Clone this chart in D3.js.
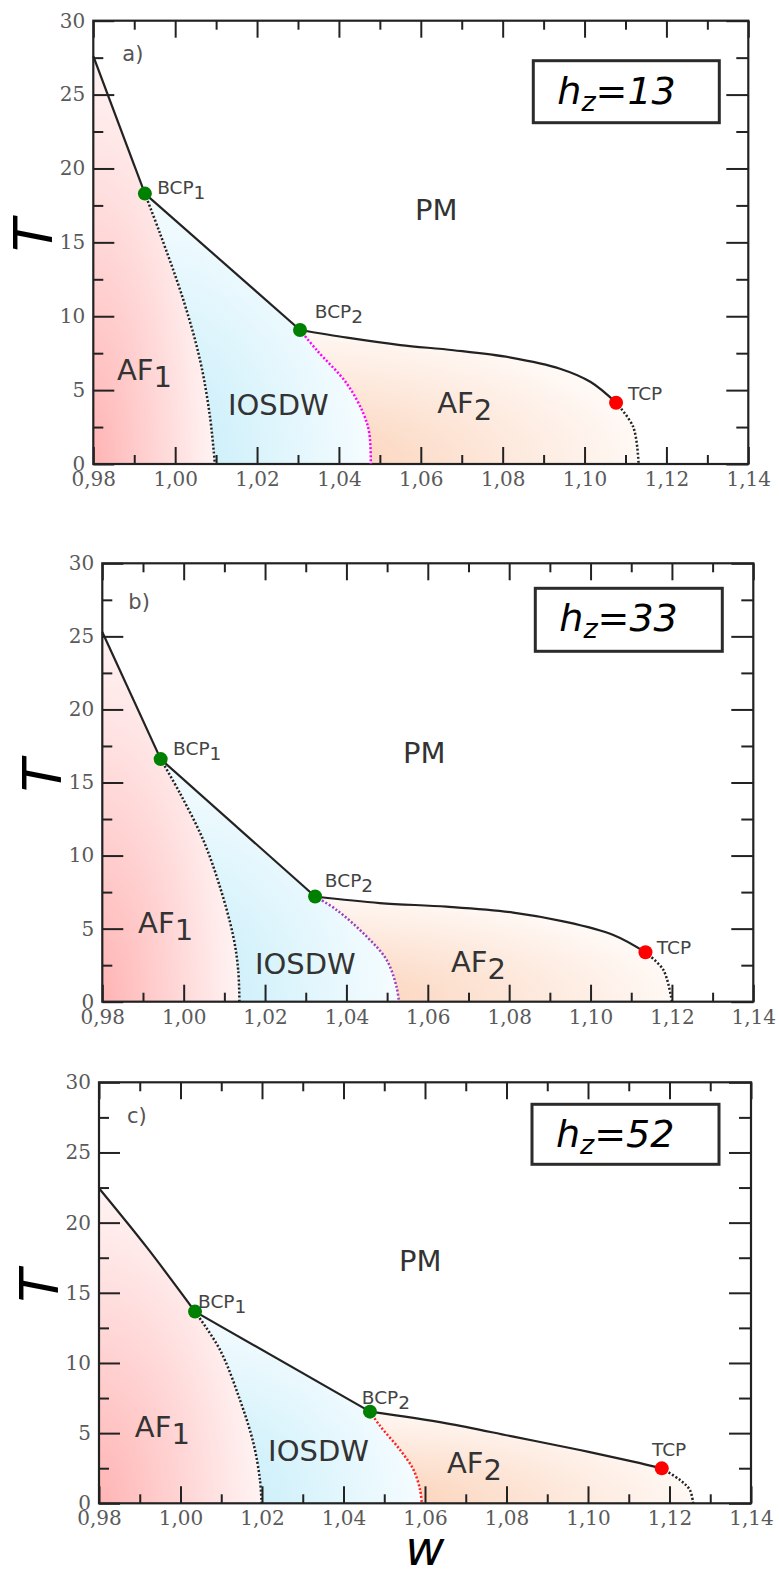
<!DOCTYPE html>
<html>
<head>
<meta charset="utf-8">
<script src="https://cdn.jsdelivr.net/npm/d3@7"></script>
<style>
  html, body { margin: 0; padding: 0; background: #fff; }
  svg { display: block; }
</style>
</head>
<body>
<svg id="fig" width="779" height="1594"></svg>
<script>
// ---- axes ----
const wDomain = [0.98, 1.14];
const tDomain = [0, 30];
const wMajor = [0.98, 1.00, 1.02, 1.04, 1.06, 1.08, 1.10, 1.12, 1.14];
const wMinor = [0.99, 1.01, 1.03, 1.05, 1.07, 1.09, 1.11, 1.13];
const tMajor = [0, 5, 10, 15, 20, 25, 30];
const tMinor = [2.5, 7.5, 12.5, 17.5, 22.5, 27.5];
const panelTags = ["a)", "b)", "c)"];
const hzValues = [13, 33, 52];

// ---- phase boundaries, points are [w, T] ----
// h_z = 13
const pmAf1A    = [[0.98, 27.6], [0.9926, 18.3]];
const pmIosdwA  = [[0.9926, 18.3], [1.0305, 9.07]];
const pmAf2A    = [[1.0305, 9.07], [1.042, 8.55], [1.055, 8.05], [1.068, 7.7], [1.082, 7.2], [1.094, 6.45], [1.1015, 5.55], [1.1077, 4.15]];
const tcpTailA  = [[1.1077, 4.15], [1.1119, 2.5], [1.1132, 0]];
const af1IosdwA = [[0.9926, 18.3], [0.9963, 15.6], [1.0020, 11.1], [1.0061, 7.0], [1.0085, 3.2], [1.0097, 0]];
const iosdwAf2A = [[1.0305, 9.07], [1.0346, 7.7], [1.0419, 5.45], [1.046, 3.4], [1.0474, 2.1], [1.0478, 0]];
const bicriticalA  = [[0.9926, 18.3], [1.0305, 9.07]];
const tricriticalA = [[1.1077, 4.15]];

// h_z = 33
const pmAf1B    = [[0.98, 25.3], [0.99435, 16.6]];
const pmIosdwB  = [[0.99435, 16.6], [1.0323, 7.2]];
const pmAf2B    = [[1.0323, 7.2], [1.0482, 6.75], [1.0646, 6.5], [1.081, 6.1], [1.0933, 5.5], [1.1056, 4.57], [1.1135, 3.38]];
const tcpTailB  = [[1.1135, 3.38], [1.1179, 2.17], [1.12, 0]];
const af1IosdwB = [[0.99435, 16.6], [0.9991, 14.26], [1.0048, 11.07], [1.0089, 7.87], [1.0122, 4.45], [1.0134, 2.17], [1.0137, 0]];
const iosdwAf2B = [[1.0323, 7.2], [1.0376, 6.28], [1.045, 4.45], [1.0499, 2.85], [1.0523, 1.03], [1.0529, 0]];
const bicriticalB  = [[0.99435, 16.6], [1.0323, 7.2]];
const tricriticalB = [[1.1135, 3.38]];

// h_z = 52
const pmAf1C    = [[0.98, 22.45], [0.9917, 18.25], [1.00356, 13.66]];
const pmIosdwC  = [[1.00356, 13.66], [1.0465, 6.53]];
const pmAf2C    = [[1.0465, 6.53], [1.0653, 5.70], [1.0817, 4.75], [1.098, 3.80], [1.1111, 2.97], [1.1181, 2.49]];
const tcpTailC  = [[1.1181, 2.49], [1.1226, 1.66], [1.125, 0.95], [1.1258, 0]];
const af1IosdwC = [[1.00356, 13.66], [1.0097, 10.93], [1.0146, 7.36], [1.0179, 4.28], [1.0195, 1.66], [1.0199, 0]];
const iosdwAf2C = [[1.0465, 6.53], [1.049, 5.5], [1.0539, 3.8], [1.0572, 2.37], [1.0588, 0.95], [1.0592, 0]];
const bicriticalC  = [[1.00356, 13.66], [1.0465, 6.53]];
const tricriticalC = [[1.1181, 2.49]];

// ---- layout ----
const frames = [
  { x0: 93.3,  x1: 748.3, y0: 20.7,   y1: 464 },
  { x0: 102.3, x1: 753.3, y0: 563.3,  y1: 1001.7 },
  { x0: 99,    x1: 751,   y0: 1082.3, y1: 1503.3 }
];
const legendBoxes = [
  { right: 29, top: 40, w: 186, h: 62 },
  { right: 31, top: 25, w: 187, h: 63 },
  { right: 32, top: 22, w: 187, h: 60 }
];
const tagOffsets = [[29, 40], [26, 46], [28, 41]];
// phase names, anchored at [w, T] (text start, baseline)
const phaseLabelSpots = [
  { PM: [1.0586, 16.52], AF1: [0.9858, 5.69], IOSDW: [1.0129, 3.32], AF2: [1.064, 3.43],
    BCP1: [0.9956, 18.26], BCP2: [1.0341, 9.86], TCP: [1.1106, 4.33] },
  { PM: [1.0539, 16.32], AF1: [0.9888, 4.68], IOSDW: [1.0175, 1.9], AF2: [1.0657, 2.05],
    BCP1: [0.9974, 16.89], BCP2: [1.0347, 7.87], TCP: [1.1163, 3.26] },
  { PM: [1.0536, 16.58], AF1: [0.9888, 4.75], IOSDW: [1.0215, 3.04], AF2: [1.0654, 2.14],
    BCP1: [1.0043, 13.9], BCP2: [1.0445, 7.08], TCP: [1.1157, 3.37] }
];
const iosdwAf2Colors = ["#ff00ff", "#9b3fbf", "#ff2020"];

const panels = [
  { pmAf1: pmAf1A, pmIosdw: pmIosdwA, pmAf2: pmAf2A, tcpTail: tcpTailA, af1Iosdw: af1IosdwA, iosdwAf2: iosdwAf2A, bcp: bicriticalA, tcp: tricriticalA },
  { pmAf1: pmAf1B, pmIosdw: pmIosdwB, pmAf2: pmAf2B, tcpTail: tcpTailB, af1Iosdw: af1IosdwB, iosdwAf2: iosdwAf2B, bcp: bicriticalB, tcp: tricriticalB },
  { pmAf1: pmAf1C, pmIosdw: pmIosdwC, pmAf2: pmAf2C, tcpTail: tcpTailC, af1Iosdw: af1IosdwC, iosdwAf2: iosdwAf2C, bcp: bicriticalC, tcp: tricriticalC }
];

const svg = d3.select("#fig");
const defs = svg.append("defs");
const commaFmt = d3.formatLocale({ decimal: ",", thousands: ".", grouping: [3], currency: ["", ""] }).format(".2f");

const SANS = "'DejaVu Sans', Verdana, sans-serif";
const SERIF = "'DejaVu Serif', 'Liberation Serif', serif";

function addGradient(id, c0, c1) {
  const g = defs.append("radialGradient").attr("id", id)
    .attr("cx", 0).attr("cy", 1).attr("fx", 0).attr("fy", 1).attr("r", 1.05);
  g.append("stop").attr("offset", 0).attr("stop-color", c0);
  g.append("stop").attr("offset", 1).attr("stop-color", c1);
}
addGradient("gradAF1", "#ffb4b4", "#fff7f7");
addGradient("gradIOSDW", "#bfebf9", "#f8fdff");
addGradient("gradAF2", "#fbd0b6", "#fffaf7");

panels.forEach((p, i) => {
  const f = frames[i];
  const x = d3.scaleLinear().domain(wDomain).range([f.x0, f.x1]);
  const y = d3.scaleLinear().domain(tDomain).range([f.y1, f.y0]);
  const g = svg.append("g");

  const curved = d3.line().x(d => x(d[0])).y(d => y(d[1])).curve(d3.curveCatmullRom.alpha(0.5));
  const straight = d3.line().x(d => x(d[0])).y(d => y(d[1]));
  const join = parts => parts.map((s, k) => k === 0 ? s : s.replace(/^M/, "L")).join("") + "Z";
  const last = a => a[a.length - 1];
  const rev = a => a.slice().reverse();

  // phase regions
  const af1Path = join([
    straight([[wDomain[0], 0], p.pmAf1[0]]),
    curved(p.pmAf1),
    curved(p.af1Iosdw)
  ]);
  const iosdwPath = join([
    curved(p.pmIosdw),
    curved(p.iosdwAf2),
    straight([last(p.iosdwAf2), last(p.af1Iosdw)]),
    curved(rev(p.af1Iosdw))
  ]);
  const af2Path = join([
    curved(p.pmAf2),
    curved(p.tcpTail),
    straight([last(p.tcpTail), last(p.iosdwAf2)]),
    curved(rev(p.iosdwAf2))
  ]);
  g.append("path").attr("d", af1Path).attr("fill", "url(#gradAF1)");
  g.append("path").attr("d", iosdwPath).attr("fill", "url(#gradIOSDW)");
  g.append("path").attr("d", af2Path).attr("fill", "url(#gradAF2)");

  // ticks (inward on all four sides)
  const styleAxis = sel => {
    sel.select(".domain").remove();
    sel.selectAll(".tick line").attr("stroke", "#222").attr("stroke-width", 2);
    sel.selectAll(".tick text").attr("fill", "#5a5a5a")
      .attr("font-family", SERIF).attr("font-size", 20);
  };
  g.append("g").attr("transform", `translate(0,${f.y1})`)
    .call(d3.axisBottom(x).tickValues(wMajor).tickSize(-17).tickPadding(8).tickFormat(commaFmt)).call(styleAxis);
  g.append("g").attr("transform", `translate(0,${f.y1})`)
    .call(d3.axisBottom(x).tickValues(wMinor).tickSize(-9).tickFormat("")).call(styleAxis);
  g.append("g").attr("transform", `translate(0,${f.y0})`)
    .call(d3.axisTop(x).tickValues(wMajor).tickSize(-17).tickFormat("")).call(styleAxis);
  g.append("g").attr("transform", `translate(0,${f.y0})`)
    .call(d3.axisTop(x).tickValues(wMinor).tickSize(-9).tickFormat("")).call(styleAxis);
  g.append("g").attr("transform", `translate(${f.x0},0)`)
    .call(d3.axisLeft(y).tickValues(tMajor).tickSize(-21).tickPadding(8).tickFormat(d3.format("d"))).call(styleAxis);
  g.append("g").attr("transform", `translate(${f.x0},0)`)
    .call(d3.axisLeft(y).tickValues(tMinor).tickSize(-10).tickFormat("")).call(styleAxis);
  g.append("g").attr("transform", `translate(${f.x1},0)`)
    .call(d3.axisRight(y).tickValues(tMajor).tickSize(-22).tickFormat("")).call(styleAxis);
  g.append("g").attr("transform", `translate(${f.x1},0)`)
    .call(d3.axisRight(y).tickValues(tMinor).tickSize(-12).tickFormat("")).call(styleAxis);

  g.append("rect").attr("x", f.x0).attr("y", f.y0)
    .attr("width", f.x1 - f.x0).attr("height", f.y1 - f.y0)
    .attr("fill", "none").attr("stroke", "#222").attr("stroke-width", 2.2);

  // boundaries
  const solid = pts => g.append("path").attr("d", curved(pts)).attr("fill", "none")
    .attr("stroke", "#222").attr("stroke-width", 2.2);
  const dotted = (pts, color) => g.append("path").attr("d", curved(pts)).attr("fill", "none")
    .attr("stroke", color).attr("stroke-width", 2.5).attr("stroke-dasharray", "2,2");
  solid(p.pmAf1);
  solid(p.pmIosdw);
  solid(p.pmAf2);
  dotted(p.tcpTail, "#222");
  dotted(p.af1Iosdw, "#222");
  dotted(p.iosdwAf2, iosdwAf2Colors[i]);

  // critical points
  g.selectAll(".bcp").data(p.bcp).join("circle").attr("class", "bcp")
    .attr("cx", d => x(d[0])).attr("cy", d => y(d[1])).attr("r", 7).attr("fill", "#008000");
  g.selectAll(".tcp").data(p.tcp).join("circle").attr("class", "tcp")
    .attr("cx", d => x(d[0])).attr("cy", d => y(d[1])).attr("r", 7).attr("fill", "#ff0000");

  // phase labels
  const spots = phaseLabelSpots[i];
  const big = (key, main, sub) => {
    const t = g.append("text").attr("x", x(spots[key][0])).attr("y", y(spots[key][1]))
      .attr("font-family", SANS).attr("font-size", 29).attr("fill", "#333");
    t.append("tspan").text(main);
    if (sub) t.append("tspan").attr("dy", 7).text(sub);
  };
  big("PM", "PM");
  big("AF1", "AF", "1");
  big("IOSDW", "IOSDW");
  big("AF2", "AF", "2");
  const small = (key, main, sub) => {
    const t = g.append("text").attr("x", x(spots[key][0])).attr("y", y(spots[key][1]))
      .attr("font-family", SANS).attr("font-size", 18.5).attr("fill", "#444");
    t.append("tspan").text(main);
    if (sub) t.append("tspan").attr("dy", 5).text(sub);
  };
  small("BCP1", "BCP", "1");
  small("BCP2", "BCP", "2");
  small("TCP", "TCP");

  // panel tag
  g.append("text").attr("x", f.x0 + tagOffsets[i][0]).attr("y", f.y0 + tagOffsets[i][1])
    .attr("font-family", SANS).attr("font-size", 21).attr("fill", "#555").text(panelTags[i]);

  // field box
  const lb = legendBoxes[i];
  const bx = f.x1 - lb.right - lb.w, by = f.y0 + lb.top;
  g.append("rect").attr("x", bx).attr("y", by).attr("width", lb.w).attr("height", lb.h)
    .attr("fill", "#fff").attr("stroke", "#2b2b2b").attr("stroke-width", 3);
  const ht = g.append("text").attr("x", bx + 24).attr("y", by + 43)
    .attr("font-family", SANS).attr("font-style", "italic").attr("font-size", 38).attr("fill", "#000");
  ht.append("tspan").text("h");
  ht.append("tspan").attr("font-size", 27).attr("dy", 7).text("z");
  ht.append("tspan").attr("dy", -7).text("=" + hzValues[i]);

  // T axis title
  g.append("text")
    .attr("transform", `translate(${f.x0 - 41},${(f.y0 + f.y1) / 2 - 7}) rotate(-90)`)
    .attr("text-anchor", "middle").attr("font-family", SANS).attr("font-style", "italic")
    .attr("font-size", 54).attr("fill", "#000").text("T");

  if (i === panels.length - 1) {
    g.append("text").attr("x", (f.x0 + f.x1) / 2).attr("y", f.y1 + 62)
      .attr("text-anchor", "middle").attr("font-family", SANS).attr("font-style", "italic")
      .attr("font-size", 48).attr("fill", "#000").text("w");
  }
});
</script>
</body>
</html>
